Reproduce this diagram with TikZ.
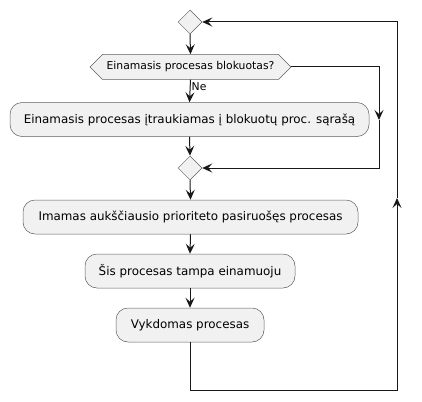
\documentclass[tikz,border=0pt]{standalone}
\usepackage{fontspec}
\setmainfont{DejaVu Sans}
\usetikzlibrary{arrows.meta,shapes.symbols,shapes.geometric}
\definecolor{boxfill}{HTML}{F1F1F1}
\definecolor{boxline}{HTML}{5E5E5E}
\definecolor{ln}{HTML}{181818}
\tikzset{
  x=1pt,y=-1pt,
  act/.style={draw=boxline,fill=boxfill,line width=0.5pt,rounded corners=12pt,minimum height=34pt,inner xsep=2pt,font=\fontsize{11.9}{14}\selectfont},
  merge/.style={draw=boxline,fill=boxfill,line width=0.5pt,diamond,minimum width=24pt,minimum height=24pt,inner sep=0pt},
  hexa/.style={draw=boxline,fill=boxfill,line width=0.5pt,signal,signal to=west and east,signal pointer angle=90,minimum width=201pt,minimum height=25pt,inner xsep=1pt,font=\fontsize{10.8}{12}\selectfont},
  flow/.style={draw=ln,line width=1pt,-{Stealth[length=10pt,width=9pt,inset=4pt]}},
}
\begin{document}
\begin{tikzpicture}
\useasboundingbox (0,0) rectangle (422,401);
\node[merge] (d1) at (190,22) {};
\node[hexa] (dec) at (190.5,67) {Einamasis procesas blokuotas?};
\node[act,minimum width=359pt] (a1) at (189.5,119.5) {Einamasis procesas įtraukiamas į blokuotų proc. sąrašą};
\node[merge] (d2) at (190,168) {};
\node[act,minimum width=335pt] (a2) at (190.5,217) {Imamas aukščiausio prioriteto pasiruošęs procesas};
\node[act,minimum width=210pt] (a3) at (190,271) {Šis procesas tampa einamuoju};
\node[act,minimum width=148pt] (a4) at (190,325) {Vykdomas procesas};
\coordinate (r1) at (379,67);
\coordinate (r2) at (379,120);
\coordinate (l1) at (190,390);
\coordinate (l2) at (397,390);
\coordinate (l3) at (397,198);
\coordinate (l4) at (397,22);
\draw[flow] (d1.south) -- (dec.north);
\draw[flow] (dec.south) -- node[pos=0.3,right=0pt,font=\fontsize{10.8}{12}\selectfont,inner sep=1pt]{Ne} (a1.north);
\draw[flow] (a1.south) -- (d2.north);
\draw[flow] (dec.east) -- (r1) -- (r2);
\draw[flow] (r2) |- (d2.east);
\draw[flow] (d2.south) -- (a2.north);
\draw[flow] (a2.south) -- (a3.north);
\draw[flow] (a3.south) -- (a4.north);
\draw[flow] (a4.south) -- (l1) -- (l2) -- (l3);
\draw[flow] (l3) -- (l4) -- (d1.east);
\end{tikzpicture}
\end{document}
